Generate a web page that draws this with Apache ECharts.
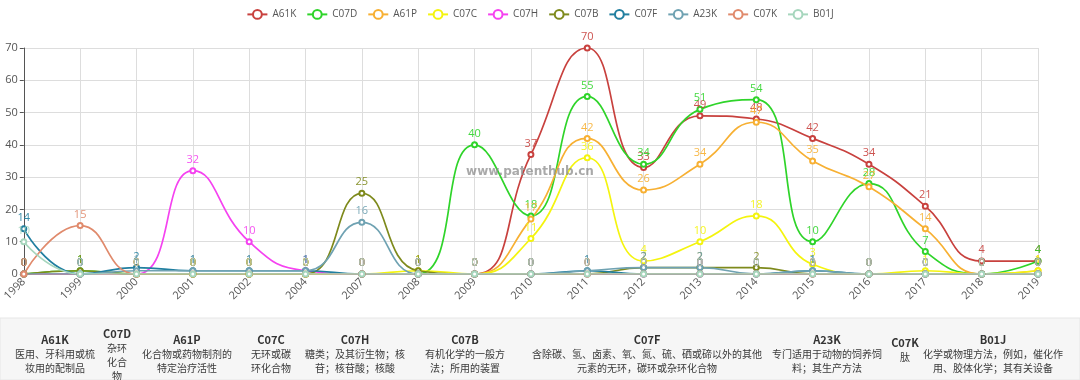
<!DOCTYPE html>
<html><head><meta charset="utf-8">
<script src="https://cdn.jsdelivr.net/npm/echarts@6/dist/echarts.min.js"></script>
<style>html,body{margin:0;padding:0;background:#fff}#c{width:1080px;height:380px}</style>
</head><body><div id="c"></div>
<script>
const categories = ['1998','1999','2000','2001','2002','2004','2007','2008','2009','2010','2011','2012','2013','2014','2015','2016','2017','2018','2019'];
const seriesNames = ['A61K','C07D','A61P','C07C','C07H','C07B','C07F','A23K','C07K','B01J'];
const A61K = [0,0,0,0,0,0,0,0,0,37,70,33,49,48,42,34,21,4,4];
const C07D = [0,1,0,0,0,0,0,0,40,18,55,34,51,54,10,28,7,0,4];
const A61P = [0,0,0,0,0,0,0,0,0,17,42,26,34,47,35,27,14,0,1];
const C07C = [0,0,0,0,0,0,0,1,0,11,36,4,10,18,3,0,1,0,1];
const C07H = [0,0,0,32,10,1,0,0,0,0,0,0,0,0,0,0,0,0,0];
const C07B = [0,1,0,0,0,0,25,1,0,0,0,2,2,2,0,0,0,0,0];
const C07F = [14,0,2,1,1,1,0,0,0,0,1,0,0,0,1,0,0,0,0];
const A23K = [0,0,1,1,1,1,16,0,0,0,1,2,2,0,1,0,0,0,0];
const C07K = [0,15,0,0,0,0,0,0,0,0,0,0,0,0,0,0,0,0,0];
const B01J = [10,0,0,0,0,0,0,0,0,0,0,0,0,0,0,0,0,0,0];
const yTicks = [0,10,20,30,40,50,60,70];
const tableCodes = ['A61K','C07D','A61P','C07C','C07H','C07B','C07F','A23K','C07K','B01J'];
const tableDescs = [
  ['医用、牙科用或梳','妆用的配制品'],
  ['杂环','化合','物'],
  ['化合物或药物制剂的','特定治疗活性'],
  ['无环或碳','环化合物'],
  ['糖类；及其衍生物；核','苷；核苷酸；核酸'],
  ['有机化学的一般方','法；所用的装置'],
  ['含除碳、氢、卤素、氧、氮、硫、硒或碲以外的其他','元素的无环，碳环或杂环化合物'],
  ['专门适用于动物的饲养饲','料；其生产方法'],
  ['肽'],
  ['化学或物理方法，例如，催化作','用、胶体化学；其有关设备']
];
const watermark = 'www.patenthub.cn';

const dataSets = [A61K,C07D,A61P,C07C,C07H,C07B,C07F,A23K,C07K,B01J];
const colors = ['#c8413e','#2fd42a','#f7b033','#f4f40f','#f542f0','#7e8a1c','#217fa0','#6fa2b2','#e08a6c','#a6d6bd'];
const tableX = [55,117,187,271,355,465,647,827,905,993];

const series = seriesNames.map((n,i)=>({
  name:n, type:'line', smooth:true, data:dataSets[i],
  symbol:'emptyCircle', symbolSize:5, showAllSymbol:true,
  lineStyle:{width:1.7,color:colors[i]}, itemStyle:{color:colors[i]},
  label:{show:true,position:'top',color:colors[i],fontSize:11,distance:2,fontFamily:'Open Sans',opacity:0.9}
}));

const graphics = [
  {type:'rect',shape:{x:0,y:318,width:1080,height:62},style:{fill:'#f6f6f6',stroke:'#e6e6e6',lineWidth:1},z:0},
  {type:'text',x:530,y:172,style:{text:watermark,fill:'rgba(140,140,140,0.75)',font:'bold 12px "DejaVu Sans"',textAlign:'center',textVerticalAlign:'middle'},z:100}
];
tableCodes.forEach((code,i)=>{
  const lines = tableDescs[i];
  const n = lines.length + 1;
  const lh = 14;
  let y0 = (n===4) ? 334 : (n===2 ? 343 : 340);
  graphics.push({type:'text',x:tableX[i],y:y0,style:{text:code,fill:'#333',font:'bold 11px "Noto Sans CJK SC"',textAlign:'center',textVerticalAlign:'middle'},z:10});
  lines.forEach((t,j)=>{
    graphics.push({type:'text',x:tableX[i],y:y0+lh*(j+1),style:{text:t,fill:'#3a3a3a',font:'10px "Noto Sans CJK SC"',textAlign:'center',textVerticalAlign:'middle'},z:10});
  });
});

const chart = echarts.init(document.getElementById('c'));
chart.setOption({
  animation:false,
  backgroundColor:'#fff',
  color:colors,
  legend:{top:4,left:'center',data:seriesNames,itemWidth:20,itemHeight:11,itemGap:10,
    textStyle:{color:'#555',fontSize:10,fontFamily:'Open Sans'}},
  grid:{left:22,right:42,top:48,bottom:106,containLabel:false},
  xAxis:{type:'category',data:categories,boundaryGap:false,
    axisLine:{lineStyle:{color:'#555'}},axisTick:{show:false},
    splitLine:{show:true,lineStyle:{color:'#ddd'}},
    axisLabel:{rotate:45,color:'#555',fontSize:11,margin:6,fontFamily:'Open Sans'}},
  yAxis:{type:'value',min:yTicks[0],max:yTicks[yTicks.length-1],interval:10,
    axisLine:{show:true,lineStyle:{color:'#555'}},axisTick:{show:true,length:4},
    splitLine:{lineStyle:{color:'#ddd'}},
    axisLabel:{color:'#555',fontSize:11,margin:6,fontFamily:'Open Sans'}},
  series:series,
  graphic:graphics
});
</script></body></html>
